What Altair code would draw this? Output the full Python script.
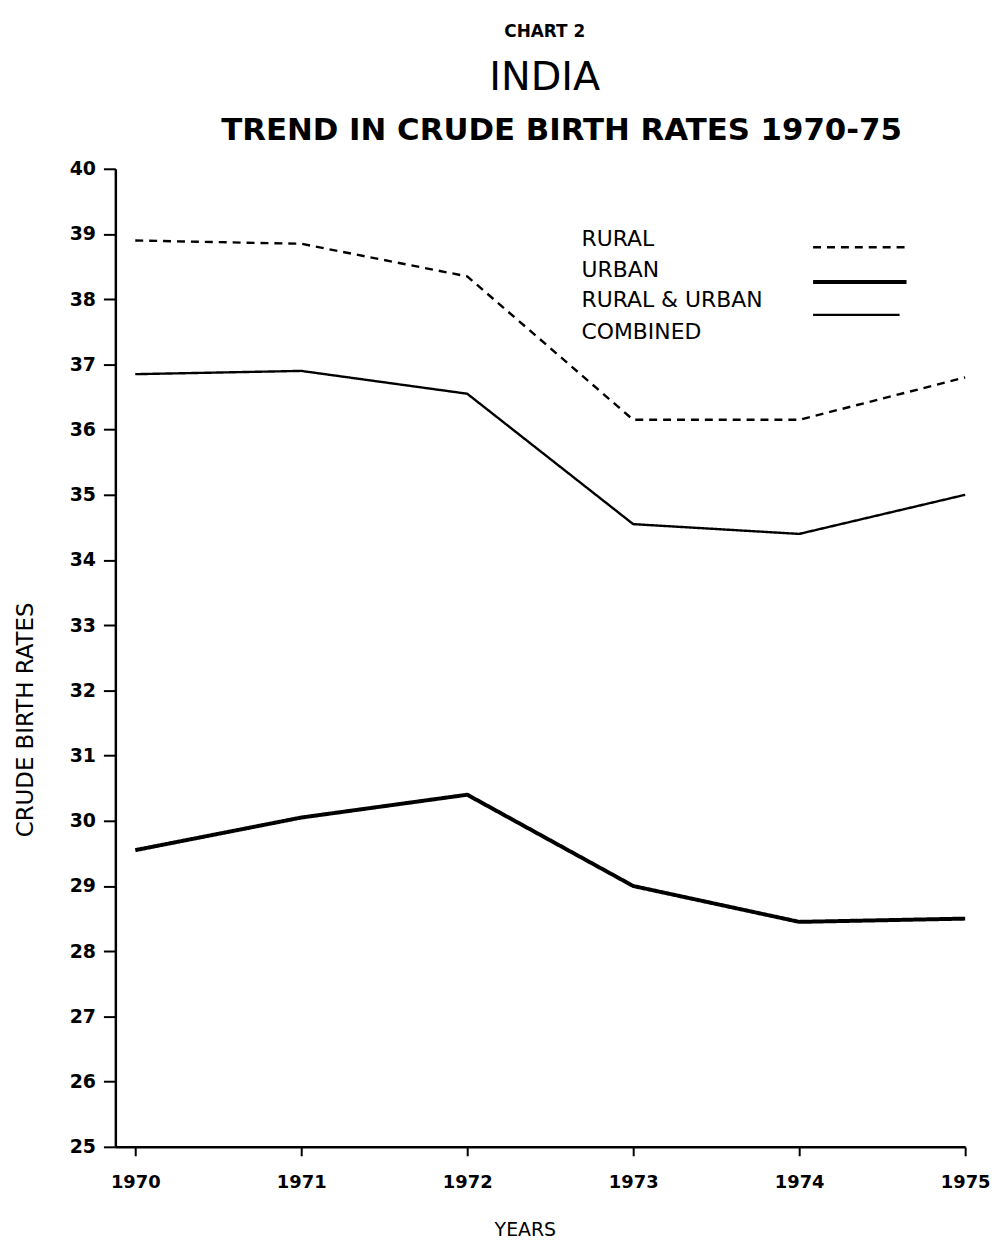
import altair as alt
import pandas as pd

years = [1970, 1971, 1972, 1973, 1974, 1975]
rural = [38.9, 38.85, 38.35, 36.15, 36.15, 36.8]
urban = [29.55, 30.05, 30.4, 29.0, 28.45, 28.5]
combined = [36.85, 36.9, 36.55, 34.55, 34.4, 35.0]

series_names = ["RURAL", "URBAN", "COMBINED"]
series_dash = [[8, 6], [1, 0], [1, 0]]
series_width = [2.4, 4.0, 2.4]

y_ticks = list(range(25, 41))

legend_labels = ["RURAL", "URBAN", "RURAL & URBAN", "COMBINED"]

rows = []
for name, vals in zip(series_names, [rural, urban, combined]):
    for yr, v in zip(years, vals):
        rows.append({"year": yr, "rate": v, "series": name})
df = pd.DataFrame(rows)

FONT = "DejaVu Sans"
W, H = 855, 984

x_enc = alt.X("year:Q",
              scale=alt.Scale(domain=[1969.88, 1975], nice=False, zero=False),
              axis=alt.Axis(values=years, format="d", title="YEARS",
                            titleX=412, titleY=83, titleBaseline="middle",
                            titleFontSize=19, titleFontWeight="normal",
                            labelFontSize=18, labelFontWeight="bold",
                            labelPadding=18, tickSize=9,
                            tickWidth=2, domainWidth=2.5, grid=False,
                            labelFlush=False))
y_enc = alt.Y("rate:Q",
              scale=alt.Scale(domain=[25, 40], nice=False, zero=False),
              axis=alt.Axis(values=y_ticks, format="d", title="CRUDE BIRTH RATES",
                            titleX=-90, titleY=554, titleAlign="center",
                            titleBaseline="middle",
                            titleFontSize=23, titleFontWeight="normal",
                            labelFontSize=19, labelFontWeight="bold",
                            labelPadding=8, tickSize=12,
                            tickWidth=2, domainWidth=2.5, grid=False))

series_layers = []
for i, (name, dash, width) in enumerate(zip(series_names, series_dash, series_width)):
    base = alt.Chart(df).transform_filter(alt.datum.series == name).mark_line(
        color="black", strokeCap="butt", strokeJoin="round",
        strokeWidth=width, strokeDash=dash)
    if i == 0:
        series_layers.append(base.encode(x=x_enc, y=y_enc))
    else:
        series_layers.append(base.encode(x="year:Q", y="rate:Q"))

blank = alt.Data(values=[{"a": 1}])

def text(label, x, y, size, weight="normal", align="center"):
    return alt.Chart(blank).mark_text(
        font=FONT, fontSize=size, fontWeight=weight, align=align,
        baseline="middle", color="black"
    ).encode(text=alt.value(label), x=alt.value(x), y=alt.value(y))

titles = [
    text("CHART 2", 432, -138, 17, "bold"),
    text("INDIA", 432, -91, 40, "normal"),
    text("TREND IN CRUDE BIRTH RATES 1970-75", 449, -38, 31, "bold"),
]

legend_y = [71, 102, 132, 164]
legend_text = [text(lbl, 469, yy, 22, "normal", "left") for lbl, yy in zip(legend_labels, legend_y)]

legend_lines = [
    alt.Chart(blank).mark_rule(color="black", strokeWidth=2.4, strokeDash=[8, 6]).encode(
        x=alt.value(702), x2=alt.value(796), y=alt.value(79)),
    alt.Chart(blank).mark_rule(color="black", strokeWidth=4.0).encode(
        x=alt.value(702), x2=alt.value(796), y=alt.value(114)),
    alt.Chart(blank).mark_rule(color="black", strokeWidth=2.4).encode(
        x=alt.value(702), x2=alt.value(789), y=alt.value(147)),
]

chart = alt.layer(*series_layers, *titles, *legend_text, *legend_lines).properties(
    width=W, height=H,
    autosize=alt.AutoSizeParams(type="none"),
    padding={"left": 108, "top": 158, "right": 28, "bottom": 92},
    background="white",
).configure_view(stroke=None).configure_axis(
    labelFont=FONT, titleFont=FONT, labelColor="black", titleColor="black",
    domainColor="black", tickColor="black"
)

chart.save("out.html", embed_options={"renderer": "svg", "actions": False})
